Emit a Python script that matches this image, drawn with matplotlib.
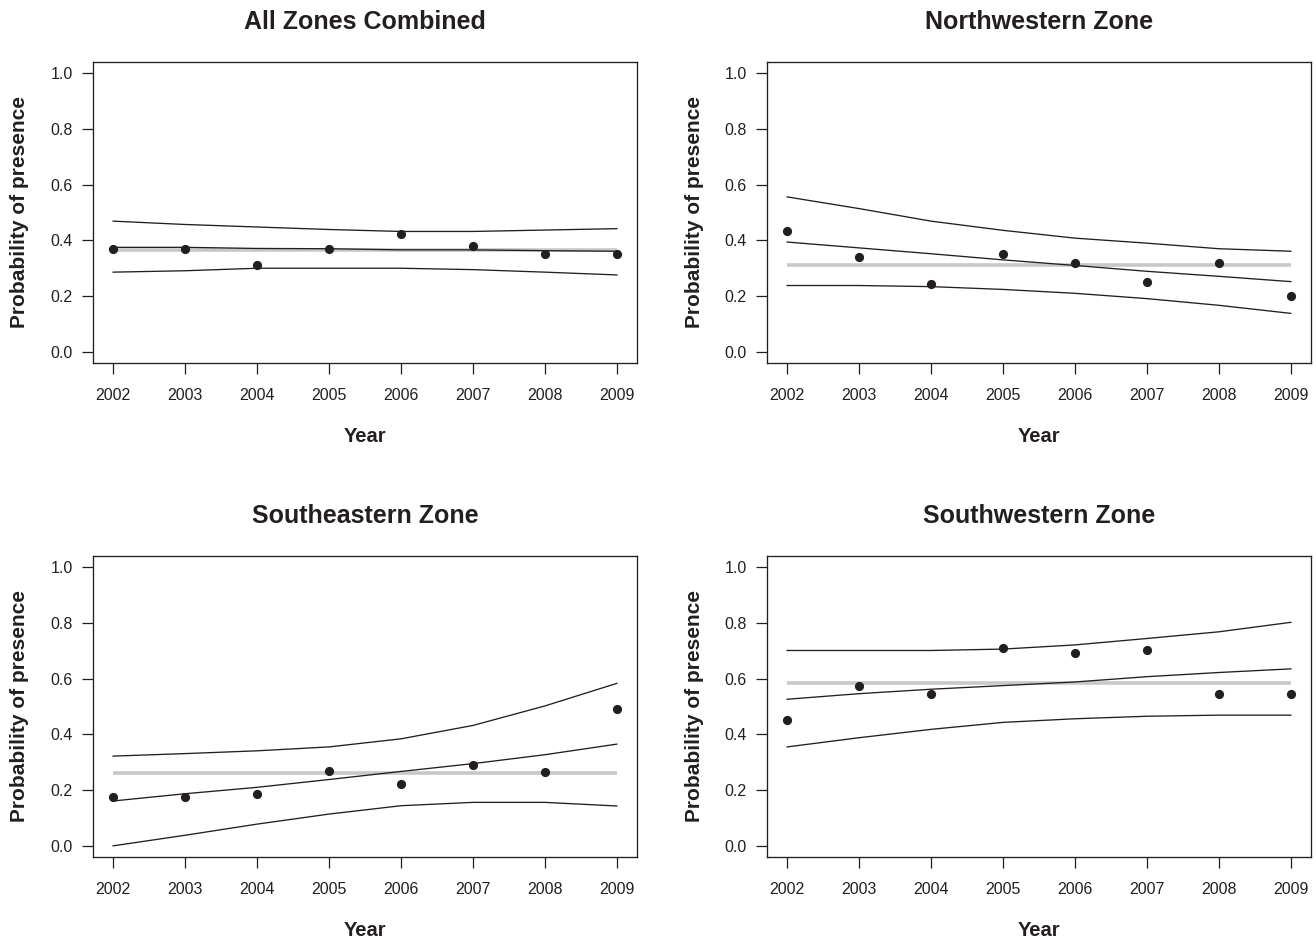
import matplotlib
matplotlib.use("Agg")
import matplotlib.pyplot as plt

plt.rcParams['font.family'] = ['Liberation Sans', 'DejaVu Sans']

years = [2002, 2003, 2004, 2005, 2006, 2007, 2008, 2009]
titles = ["All Zones Combined", "Northwestern Zone", "Southeastern Zone", "Southwestern Zone"]

# observed proportions (points)
obs_all = [0.370, 0.370, 0.313, 0.370, 0.423, 0.379, 0.351, 0.351]
obs_nw = [0.432, 0.342, 0.244, 0.351, 0.318, 0.252, 0.318, 0.199]
obs_se = [0.175, 0.175, 0.185, 0.270, 0.222, 0.289, 0.265, 0.492]
obs_sw = [0.450, 0.574, 0.545, 0.711, 0.693, 0.701, 0.545, 0.545]

# fitted trend
fit_all = [0.375, 0.375, 0.371, 0.370, 0.366, 0.366, 0.363, 0.361]
fit_nw = [0.394, 0.373, 0.352, 0.330, 0.310, 0.289, 0.271, 0.252]
fit_se = [0.161, 0.187, 0.210, 0.238, 0.267, 0.295, 0.327, 0.365]
fit_sw = [0.526, 0.546, 0.562, 0.575, 0.588, 0.607, 0.622, 0.635]

# upper confidence bound
up_all = [0.469, 0.457, 0.448, 0.439, 0.432, 0.432, 0.437, 0.442]
up_nw = [0.556, 0.514, 0.469, 0.436, 0.408, 0.390, 0.370, 0.361]
up_se = [0.322, 0.331, 0.341, 0.355, 0.384, 0.432, 0.502, 0.583]
up_sw = [0.701, 0.701, 0.701, 0.706, 0.721, 0.744, 0.768, 0.802]

# lower confidence bound
lo_all = [0.286, 0.291, 0.300, 0.300, 0.300, 0.295, 0.286, 0.276]
lo_nw = [0.238, 0.238, 0.234, 0.224, 0.210, 0.191, 0.167, 0.138]
lo_se = [0.000, 0.038, 0.078, 0.114, 0.144, 0.156, 0.156, 0.143]
lo_sw = [0.355, 0.388, 0.418, 0.443, 0.456, 0.465, 0.469, 0.469]

# overall mean (grey reference line)
mean_vals = [0.366, 0.310, 0.262, 0.583]

yticks = [0.0, 0.2, 0.4, 0.6, 0.8, 1.0]
ytick_labels = ["0.0", "0.2", "0.4", "0.6", "0.8", "1.0"]

panels = [
    (obs_all, fit_all, up_all, lo_all),
    (obs_nw, fit_nw, up_nw, lo_nw),
    (obs_se, fit_se, up_se, lo_se),
    (obs_sw, fit_sw, up_sw, lo_sw),
]

W, H = 1316, 940
fig = plt.figure(figsize=(W / 100, H / 100), dpi=100)

# panel boxes in pixels: (left, top, right, bottom)
boxes = [(93, 62, 637, 363), (767, 62, 1311, 363),
         (93, 556, 637, 857), (767, 556, 1311, 857)]

txtcol = "#231f20"
for i, (box, (obs, fit, up, lo)) in enumerate(zip(boxes, panels)):
    l, t, r, b = box
    ax = fig.add_axes([l / W, 1 - b / H, (r - l) / W, (b - t) / H])
    ax.plot([years[0], years[-1]], [mean_vals[i], mean_vals[i]], color="#c8c8c8",
            lw=2.6, solid_capstyle="butt", zorder=1)
    ax.plot(years, up, color="#231f20", lw=0.95, zorder=2)
    ax.plot(years, fit, color="#231f20", lw=0.95, zorder=2)
    ax.plot(years, lo, color="#231f20", lw=0.95, zorder=2)
    ax.plot(years, obs, linestyle="none", marker="o", markersize=5.6,
            color="#231f20", zorder=3)
    ax.set_xlim(2002 - 0.28, 2009 + 0.28)
    ax.set_ylim(-0.04, 1.04)
    ax.set_xticks(years)
    ax.set_xticklabels([str(y) for y in years], fontsize=11.5, color=txtcol)
    ax.set_yticks(yticks)
    ax.set_yticklabels(ytick_labels, fontsize=11.5, color=txtcol)
    ax.tick_params(axis="both", direction="out", length=8, width=0.9, color="#231f20")
    ax.tick_params(axis="x", pad=10)
    ax.tick_params(axis="y", pad=6.5)
    for s in ax.spines.values():
        s.set_linewidth(0.95)
        s.set_color("#231f20")
    cx = (l + r) / 2 / W
    fig.text(cx, 1 - (t - 40) / H, titles[i], ha="center", va="center",
             fontsize=18, fontweight="bold", color=txtcol)
    fig.text(cx, 1 - (b + 73) / H, "Year", ha="center", va="center",
             fontsize=14.5, fontweight="bold", color=txtcol)
    fig.text((l - 73) / W, 1 - (t + b) / 2 / H, "Probability of presence",
             rotation=90, ha="center", va="center",
             fontsize=15, fontweight="bold", color=txtcol)

fig.savefig("out.png", dpi=100)
